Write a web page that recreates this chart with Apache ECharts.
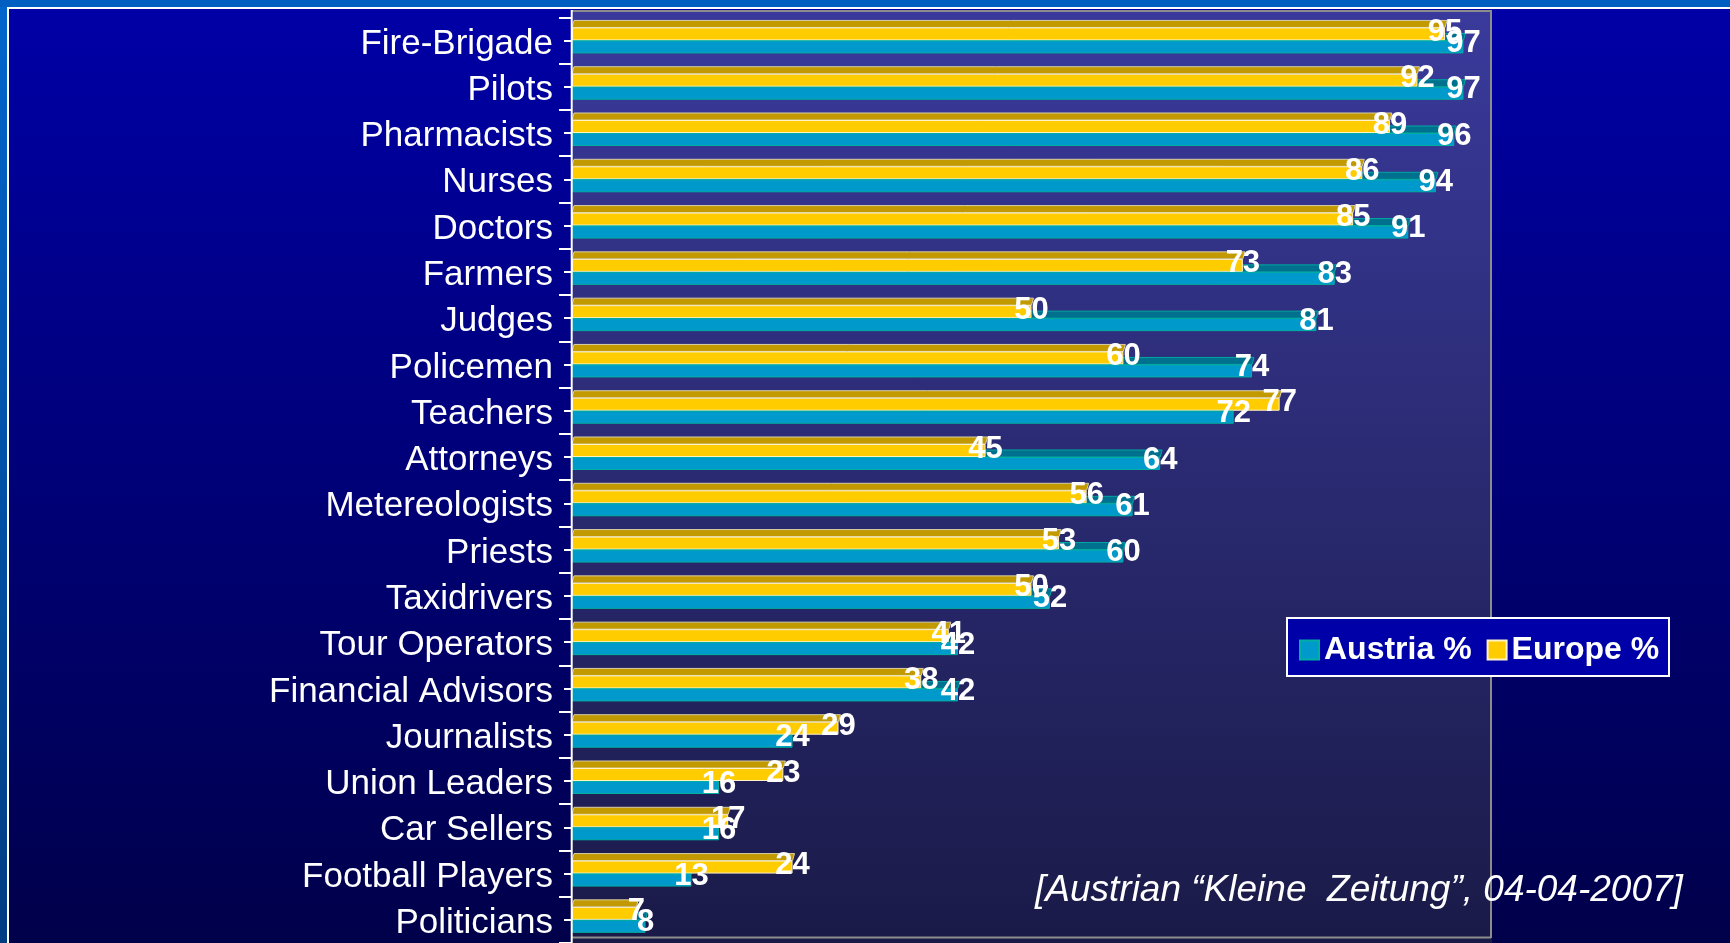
<!DOCTYPE html>
<html><head><meta charset="utf-8">
<script src="https://cdn.jsdelivr.net/npm/echarts@6/dist/echarts.min.js"></script>
<style>html,body{margin:0;padding:0;background:#0000a0;overflow:hidden}#c{width:1730px;height:943px;}</style>
</head><body><div id="c"></div>
<script>
const categories = ['Fire-Brigade','Pilots','Pharmacists','Nurses','Doctors','Farmers','Judges','Policemen','Teachers','Attorneys','Metereologists','Priests','Taxidrivers','Tour Operators','Financial Advisors','Journalists','Union Leaders','Car Sellers','Football Players','Politicians'];
const austria = [97,97,96,94,91,83,81,74,72,64,61,60,52,42,42,24,16,16,13,8];
const europe  = [95,92,89,86,85,73,50,60,77,45,56,53,50,41,38,29,23,17,24,7];
const seriesNames = ['Austria %','Europe %'];
const sourceNote = '[Austrian \u201cKleine  Zeitung\u201d, 04-04-2007]';

const FONT = '"Liberation Sans", Arial, sans-serif';
const BAR_W = 13, DEPTH = 7, DX = 2;
const lin = (c1, c2) => ({type:'linear', x:0, y:0, x2:0, y2:1, colorStops:[{offset:0,color:c1},{offset:1,color:c2}]});

const chart = echarts.init(document.getElementById('c'));
const option = {
  animation: false,
  graphic: [
    {type:'rect', z:0, shape:{x:0,y:0,width:1730,height:943}, style:{fill:lin('#0066cc','#003c82')}},
    {type:'rect', z:1, shape:{x:0,y:0,width:1730,height:7}, style:{fill:'#005fc0'}},
    {type:'rect', z:2, shape:{x:7,y:7,width:1723,height:936}, style:{fill:'#ffffff'}},
    {type:'rect', z:3, shape:{x:9,y:9,width:1721,height:934}, style:{fill:lin('#0000a6','#00004a')}},
    {type:'rect', z:4, shape:{x:572,y:10,width:920,height:933}, style:{fill:lin('#3a3a9c','#1a1a48')}},
    {type:'line', z:5, shape:{x1:572,y1:11,x2:1492,y2:11}, style:{stroke:'#8c8c8c', lineWidth:2}},
    {type:'line', z:5, shape:{x1:1491,y1:10,x2:1491,y2:938}, style:{stroke:'#8c8c8c', lineWidth:2}},
    {type:'line', z:5, shape:{x1:572,y1:937.5,x2:1491,y2:937.5}, style:{stroke:'#8c8c8c', lineWidth:2}},
    {type:'line', z:30, shape:{x1:571.7,y1:10,x2:571.7,y2:943}, style:{stroke:'#ffffff', lineWidth:2}},
    {type:'text', z:30, x:1035, y:891, style:{text:sourceNote, fill:'#ffffff', font:'italic 37px "Liberation Sans", Arial, sans-serif', verticalAlign:'middle', align:'left'}},
    {type:'rect', z:30, shape:{x:1287,y:618,width:382,height:58}, style:{fill:'#0000a8', stroke:'#ffffff', lineWidth:2}}
  ],
  grid: {left:572, top:17.3, width:919, height:927.4},
  xAxis: {type:'value', min:0, max:100, show:false},
  yAxis: [
    {type:'category', data:categories, inverse:true, position:'left', z:25,
     axisLine:{show:false},
     axisTick:{show:true, length:13, lineStyle:{color:'#ffffff', width:2}},
     axisLabel:{color:'#ffffff', margin:19,
       formatter: v => '{g| }\n{t|' + v + '}',
       rich:{g:{fontSize:1, lineHeight:7}, t:{fontSize:35, lineHeight:40, color:'#ffffff', fontFamily:FONT}}},
     splitLine:{show:false}},
    {type:'category', data:categories, inverse:true, position:'left', z:25,
     axisLine:{show:false},
     axisTick:{show:true, alignWithLabel:true, length:8, lineStyle:{color:'#ffffff', width:2}},
     axisLabel:{show:false}, splitLine:{show:false}}
  ],
  legend: {
    data: seriesNames, left:1299, top:634, orient:'horizontal', selectedMode:false, z:40,
    itemWidth:19, itemHeight:19, itemGap:15, icon:'rect', padding:0,
    textStyle:{color:'#ffffff', fontSize:32, fontWeight:'bold', fontFamily:FONT}
  },
  series: [
    {type:'custom', z:8, silent:true, yAxisIndex:0,
     data: categories.map((c,i)=>[austria[i], i, europe[i]]),
     encode:{x:0, y:1},
     renderItem: function(params, api){
       const i = api.value(1), a = api.value(0), e = api.value(2);
       const p0 = api.coord([0, i]), pa = api.coord([a, i]), pe = api.coord([e, i]);
       const yc = p0[1], x0 = p0[0];
       return {type:'group', children:[
         {type:'polygon', shape:{points:[[x0,yc],[pa[0],yc],[pa[0]+DX,yc-DEPTH],[x0+DX,yc-DEPTH]]},
          style:{fill:'#00708f', stroke:'#00a8a0', lineWidth:1}},
         {type:'polygon', shape:{points:[[x0,yc-BAR_W],[pe[0],yc-BAR_W],[pe[0]+DX,yc-BAR_W-DEPTH],[x0+DX,yc-BAR_W-DEPTH]]},
          style:{fill:'#c29a00', stroke:'#d8cfa8', lineWidth:1}}
       ]};
     }},
    {name:'Europe %', type:'bar', data:europe, barWidth:BAR_W, barGap:'0%', z:10, silent:true,
     itemStyle:{color:'#ffcc00', borderColor:'#fff2c8', borderWidth:1}},
    {name:'Austria %', type:'bar', data:austria, barWidth:BAR_W, barGap:'0%', z:10, silent:true,
     itemStyle:{color:'#0099cc', borderColor:'#00b0a0', borderWidth:1}},
    {type:'scatter', data:europe.map((v,i)=>[v,i]), symbolSize:1, z:20, silent:true,
     itemStyle:{color:'transparent', opacity:1},
     label:{show:true, position:'inside', offset:[0,-8], color:'#ffffff', opacity:1, fontSize:31, fontWeight:'bold', fontFamily:FONT, formatter:p=>String(p.value[0])}},
    {type:'scatter', data:austria.map((v,i)=>[v,i]), symbolSize:1, z:20, silent:true,
     itemStyle:{color:'transparent', opacity:1},
     label:{show:true, position:'inside', offset:[0,3], color:'#ffffff', opacity:1, fontSize:31, fontWeight:'bold', fontFamily:FONT, formatter:p=>String(p.value[0])}}
  ]
};
chart.setOption(option);
</script></body></html>
